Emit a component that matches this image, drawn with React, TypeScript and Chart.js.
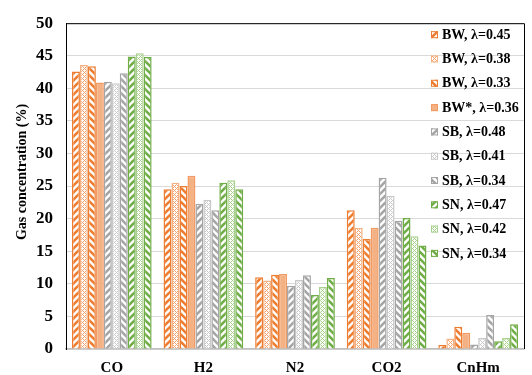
import React, { useEffect, useRef } from 'react';
import { Chart, registerables } from 'chart.js';

Chart.register(...registerables);

const categories = ['CO', 'H2', 'N2', 'CO2', 'CnHm'];
const seriesLabels = [
  'BW, λ=0.45', 'BW, λ=0.38', 'BW, λ=0.33', 'BW*, λ=0.36',
  'SB, λ=0.48', 'SB, λ=0.41', 'SB, λ=0.34',
  'SN, λ=0.47', 'SN, λ=0.42', 'SN, λ=0.34',
];
const bw045 = [42.6, 24.5, 11.0, 21.3, 0.6];
const bw038 = [43.6, 25.5, 10.5, 18.6, 1.6];
const bw033 = [43.4, 25.0, 11.4, 16.9, 3.4];
const bwStar036 = [40.9, 26.6, 11.5, 18.6, 2.5];
const sb048 = [41.0, 22.3, 9.7, 26.3, 0.7];
const sb041 = [40.8, 22.9, 10.6, 23.5, 1.7];
const sb034 = [42.3, 21.3, 11.3, 19.7, 5.2];
const sn047 = [44.9, 25.5, 8.3, 20.1, 1.2];
const sn042 = [45.4, 25.9, 9.5, 17.3, 1.7];
const sn034 = [44.8, 24.5, 10.9, 15.9, 3.8];
const seriesValues = [bw045, bw038, bw033, bwStar036, sb048, sb041, sb034, sn047, sn042, sn034];

const yMin = 0;
const yMax = 50;
const yStep = 5;
const yTitle = 'Gas concentration (%)';

const FONT = '"Liberation Serif", "Times New Roman", serif';

function stripes(color: string, dir: 'up' | 'down', s = 7, w = 2.6) {
  const c = document.createElement('canvas');
  c.width = s; c.height = s;
  const g = c.getContext('2d')!;
  g.fillStyle = '#ffffff';
  g.fillRect(0, 0, s, s);
  g.strokeStyle = color;
  g.lineWidth = w;
  for (const k of [-s, 0, s]) {
    g.beginPath();
    if (dir === 'up') { g.moveTo(k - 1, s + 1); g.lineTo(k + s + 1, -1); }
    else { g.moveTo(k - 1, -1); g.lineTo(k + s + 1, s + 1); }
    g.stroke();
  }
  return g.createPattern(c, 'repeat')!;
}

function lattice(color: string) {
  const s = 4;
  const c = document.createElement('canvas');
  c.width = s; c.height = s;
  const g = c.getContext('2d')!;
  g.fillStyle = '#ffffff';
  g.fillRect(0, 0, s, s);
  g.fillStyle = color;
  const pts = [[0, 0], [1, 1], [2, 2], [3, 3], [1, 3], [3, 1]];
  for (const [x, y] of pts) g.fillRect(x, y, 1, 1);
  return g.createPattern(c, 'repeat')!;
}

export default function App() {
  const ref = useRef<HTMLCanvasElement | null>(null);

  useEffect(() => {
    document.body.style.margin = '0';
    const canvas = ref.current!;
    const orange = '#ED7D31', orangeL = '#F4B183';
    const grey = '#A5A5A5', greyL = '#C9C9C9';
    const green = '#70AD47', greenL = '#A9D18E';

    const fills = [
      stripes(orange, 'up'), lattice('#F3A370'), stripes(orange, 'down'), orangeL,
      stripes(grey, 'up'), lattice(greyL), stripes(grey, 'down'),
      stripes(green, 'up'), lattice(greenL), stripes(green, 'down'),
    ];
    const borders = [
      orange, orangeL, orange, '#F19A62',
      grey, greyL, grey,
      green, greenL, green,
    ];

    const datasets = seriesValues.map((vals, i) => ({
      label: seriesLabels[i],
      data: vals,
      backgroundColor: fills[i] as any,
      borderColor: borders[i],
      borderWidth: 1.5,
      barPercentage: 1.0,
      categoryPercentage: 0.87,
    }));

    const framePlugin = {
      id: 'frame',
      afterDraw(chart: any) {
        const { ctx, chartArea: a } = chart;
        ctx.save();
        ctx.strokeStyle = '#000000';
        ctx.lineWidth = 1;
        ctx.beginPath();
        ctx.moveTo(a.left, a.top + 0.5);
        ctx.lineTo(a.right + 0.5, a.top + 0.5);
        ctx.lineTo(a.right + 0.5, a.bottom);
        ctx.stroke();
        ctx.restore();
      },
    };

    const legendPlugin = {
      id: 'insideLegend',
      afterDraw(chart: any) {
        const { ctx, chartArea: a } = chart;
        ctx.save();
        ctx.font = `bold 14px ${FONT}`;
        ctx.textBaseline = 'middle';
        ctx.textAlign = 'left';
        chart.data.datasets.forEach((ds: any, i: number) => {
          const y = a.top + 12 + i * 24.3;
          const x = a.right - 93;
          ctx.fillStyle = ds.backgroundColor;
          ctx.fillRect(x, y - 4, 7, 7);
          ctx.strokeStyle = ds.borderColor;
          ctx.lineWidth = 1;
          ctx.strokeRect(x + 0.5, y - 3.5, 6, 6);
          ctx.fillStyle = '#000000';
          ctx.fillText(ds.label, x + 11, y);
        });
        ctx.restore();
      },
    };

    const yTitlePlugin = {
      id: 'yTitle',
      afterDraw(chart: any) {
        const { ctx } = chart;
        ctx.save();
        ctx.translate(22, 172);
        ctx.rotate(-Math.PI / 2);
        ctx.font = `bold 14px ${FONT}`;
        ctx.fillStyle = '#000000';
        ctx.textAlign = 'center';
        ctx.textBaseline = 'middle';
        ctx.fillText(yTitle, 0, 0);
        ctx.restore();
      },
    };

    const chart = new Chart(canvas, {
      type: 'bar',
      data: { labels: categories, datasets },
      plugins: [framePlugin, legendPlugin, yTitlePlugin],
      options: {
        responsive: false,
        animation: false,
        devicePixelRatio: 1,
        layout: { padding: { left: 0, right: 8, top: 17, bottom: 0 } },
        plugins: {
          legend: { display: false },
          tooltip: { enabled: false },
        },
        scales: {
          x: {
            grid: { display: false, drawTicks: false },
            border: { display: true, color: '#BFBFBF', width: 1.5 },
            ticks: {
              color: '#000000',
              font: { family: FONT, size: 15, weight: 'bold' },
              padding: 10,
              maxRotation: 0,
            },
            afterFit(scale: any) { scale.height = 26; },
          },
          y: {
            min: yMin,
            max: yMax,
            grid: { color: '#D9D9D9', lineWidth: 1, drawTicks: false },
            border: { display: true, color: '#000000', width: 1 },
            ticks: {
              stepSize: yStep,
              color: '#000000',
              font: { family: FONT, size: 17, weight: 'bold' },
              padding: 13,
            },
            afterFit(scale: any) { scale.width = 66; },
          },
        },
      },
    });
    return () => chart.destroy();
  }, []);

  return (
    <canvas ref={ref} width={532} height={375} style={{ display: 'block', width: 532, height: 375 }} />
  );
}
